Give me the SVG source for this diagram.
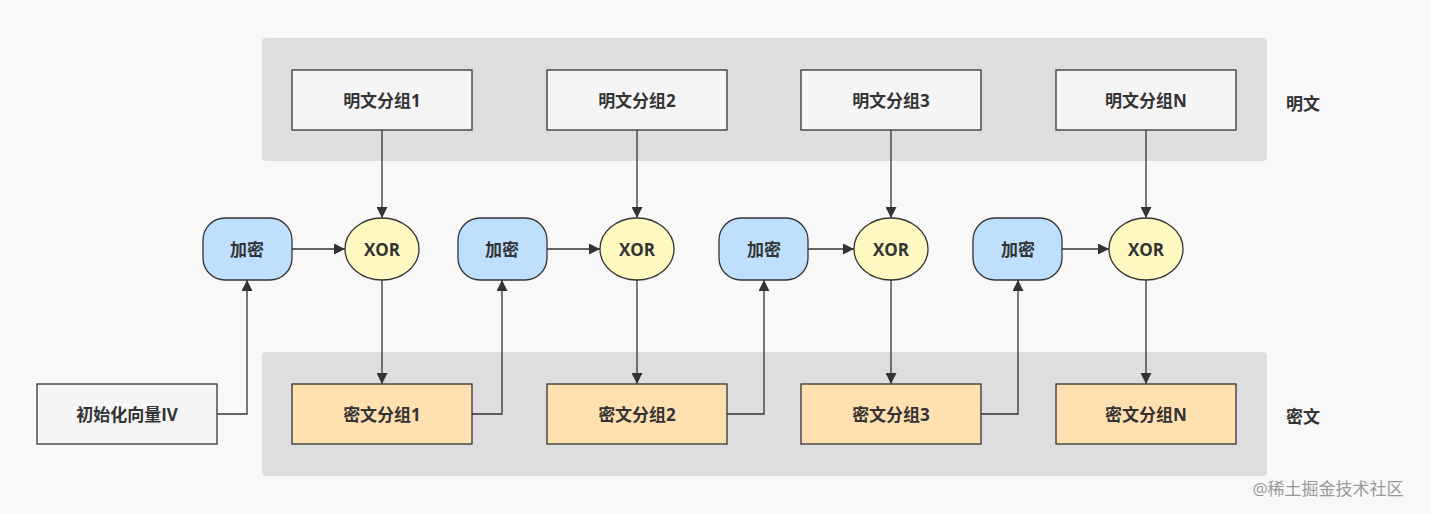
<svg xmlns="http://www.w3.org/2000/svg" width="1430" height="514" viewBox="0 0 1430 514">
<style>
text{font-family:"Open Sans","Noto Sans CJK SC",sans-serif;font-weight:bold;font-size:17px;fill:#333;text-anchor:middle;dominant-baseline:central}
.band{fill:#dedede}
.p{fill:#f5f5f5;stroke:#333;stroke-width:1.3}
.c{fill:#ffe0b0;stroke:#333;stroke-width:1.3}
.e{fill:#bfdfff;stroke:#333;stroke-width:1.3}
.x{fill:#fff8c0;stroke:#333;stroke-width:1.3}
.l{fill:none;stroke:#333;stroke-width:1.3;marker-end:url(#a)}
</style>
<defs><marker id="a" viewBox="0 0 10 10" refX="10" refY="5" markerWidth="11" markerHeight="11" markerUnits="userSpaceOnUse" orient="auto"><path d="M0,0L10,5L0,10z" fill="#333"/></marker></defs>
<rect width="1430" height="514" fill="#f8f8f8"/>
<rect class="band" x="262" y="38" width="1005" height="123" rx="4"/>
<rect class="band" x="262" y="352" width="1005" height="124" rx="4"/>
<text x="1303" y="103">明文</text>
<text x="1303" y="416">密文</text>
<g id="connectors">
<path class="l" d="M382,130V218"/><path class="l" d="M637,130V218"/><path class="l" d="M891,130V218"/><path class="l" d="M1146,130V218"/>
<path class="l" d="M382,280V384"/><path class="l" d="M637,280V384"/><path class="l" d="M891,280V384"/><path class="l" d="M1146,280V384"/>
<path class="l" d="M292,249H345"/><path class="l" d="M547,249H600"/><path class="l" d="M808,249H854"/><path class="l" d="M1062,249H1109"/>
<path class="l" d="M217,414H247V280"/><path class="l" d="M472,414H502V280"/><path class="l" d="M727,414H764V280"/><path class="l" d="M981,414H1018V280"/>
</g>
<g id="p1"><rect class="p" x="292" y="70" width="180" height="60"/><text x="382" y="100">明文分组1</text></g>
<g id="p2"><rect class="p" x="547" y="70" width="180" height="60"/><text x="637" y="100">明文分组2</text></g>
<g id="p3"><rect class="p" x="801" y="70" width="180" height="60"/><text x="891" y="100">明文分组3</text></g>
<g id="pN"><rect class="p" x="1056" y="70" width="180" height="60"/><text x="1146" y="100">明文分组N</text></g>
<g id="c1"><rect class="c" x="292" y="384" width="180" height="60"/><text x="382" y="414">密文分组1</text></g>
<g id="c2"><rect class="c" x="547" y="384" width="180" height="60"/><text x="637" y="414">密文分组2</text></g>
<g id="c3"><rect class="c" x="801" y="384" width="180" height="60"/><text x="891" y="414">密文分组3</text></g>
<g id="cN"><rect class="c" x="1056" y="384" width="180" height="60"/><text x="1146" y="414">密文分组N</text></g>
<g id="iv"><rect class="p" x="37" y="384" width="180" height="60"/><text x="127" y="414">初始化向量IV</text></g>
<g id="e1"><rect class="e" x="203" y="218" width="89" height="62" rx="22"/><text x="247" y="249">加密</text></g>
<g id="e2"><rect class="e" x="458" y="218" width="89" height="62" rx="22"/><text x="502" y="249">加密</text></g>
<g id="e3"><rect class="e" x="719" y="218" width="89" height="62" rx="22"/><text x="764" y="249">加密</text></g>
<g id="e4"><rect class="e" x="973" y="218" width="89" height="62" rx="22"/><text x="1018" y="249">加密</text></g>
<g id="x1"><ellipse class="x" cx="382" cy="249" rx="37" ry="31"/><text x="382" y="249">XOR</text></g>
<g id="x2"><ellipse class="x" cx="637" cy="249" rx="37" ry="31"/><text x="637" y="249">XOR</text></g>
<g id="x3"><ellipse class="x" cx="891" cy="249" rx="37" ry="31"/><text x="891" y="249">XOR</text></g>
<g id="x4"><ellipse class="x" cx="1146" cy="249" rx="37" ry="31"/><text x="1146" y="249">XOR</text></g>
<text x="1328" y="488" style="font-weight:normal;font-size:17px;fill:#999">@稀土掘金技术社区</text>
</svg>
